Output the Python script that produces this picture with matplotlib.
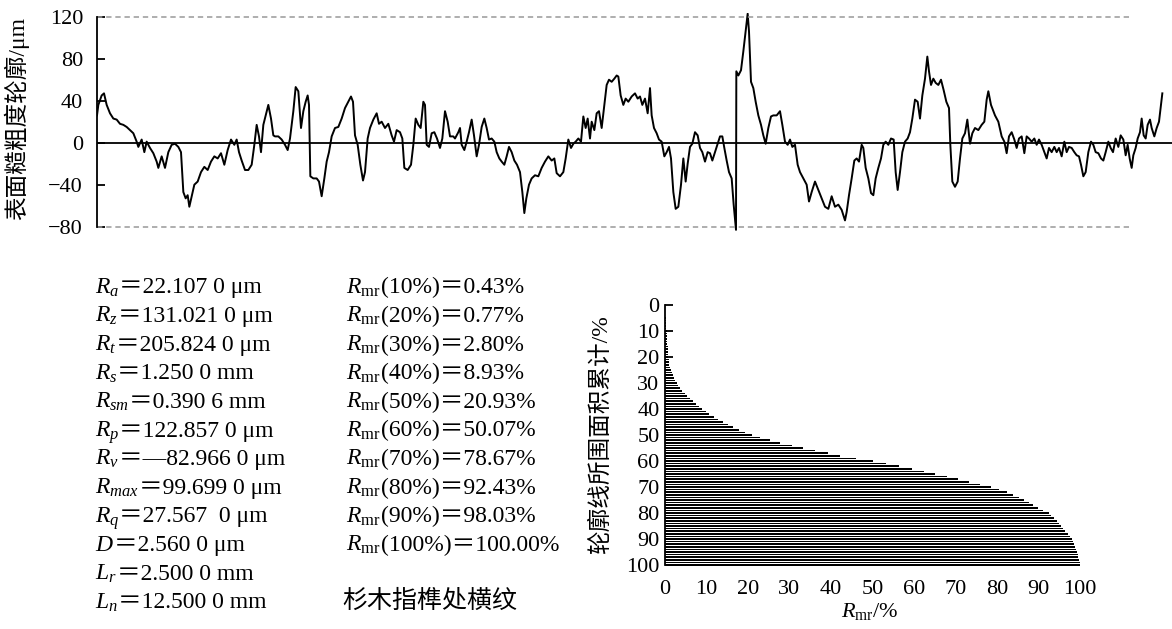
import matplotlib
matplotlib.use("Agg")
import matplotlib.pyplot as plt

plt.rcParams['font.family'] = ['Liberation Serif', 'Noto Sans CJK SC']
plt.rcParams['mathtext.fontset'] = 'custom'
plt.rcParams['mathtext.rm'] = 'Liberation Serif'
plt.rcParams['mathtext.it'] = 'Liberation Serif:italic'

# ---- roughness profile (trace position, height in um) ----
trace_pos = [
    6, 10, 20, 27, 35, 45, 55, 65, 75, 85, 95, 105, 115, 125, 130, 140, 148, 155, 165, 175,
    185, 190, 200, 210, 220, 230, 240, 250, 258, 265, 272, 278, 283, 290, 298, 308, 318, 328, 338, 348,
    358, 368, 378, 388, 398, 408, 418, 425, 432, 440, 450, 460, 470, 478, 485, 492, 498, 505, 512, 520,
    528, 535,
    540, 550, 560, 570, 578, 585, 595, 602, 610, 618, 625, 632, 638, 642, 646, 655, 665, 672, 680, 688,
    695, 702, 710, 720, 730, 740, 750, 760, 768, 774, 780, 788, 796, 804, 810, 818, 825, 835, 845, 852,
    860, 870, 880, 890, 897, 905, 915, 922, 928, 938, 948, 955, 962, 970, 977, 985, 990, 995, 1002, 1010,
    1018, 1026, 1035, 1042, 1050, 1058, 1065, 1075,
    1080, 1090, 1095, 1100, 1108, 1115, 1122, 1130, 1137, 1145, 1152, 1160, 1168, 1175, 1182, 1190, 1198, 1205, 1213, 1220,
    1228, 1235, 1242, 1250, 1258, 1266, 1275, 1282, 1288, 1294, 1302, 1310, 1320, 1330, 1340, 1350, 1360, 1370, 1378, 1385,
    1395, 1405, 1412, 1420, 1428, 1435, 1442, 1450, 1458, 1465, 1472, 1478, 1485, 1490, 1498, 1505, 1512, 1520, 1528, 1535,
    1542, 1550, 1558, 1565, 1570, 1577, 1585, 1592, 1600, 1610,
    1620, 1628, 1635, 1642, 1650, 1658, 1665, 1670, 1677, 1685, 1692, 1700, 1708, 1715, 1722, 1728, 1735, 1742, 1750, 1758,
    1765, 1772, 1778, 1785, 1792, 1800, 1808, 1815, 1822, 1830, 1838, 1845, 1852, 1860, 1868, 1875, 1882, 1888, 1895, 1902,
    1910, 1916, 1923, 1924, 1930, 1938, 1945, 1952, 1958, 1962, 1968, 1975, 1982, 1990, 1998, 2005, 2012, 2020, 2028, 2035,
    2045, 2055, 2062, 2070, 2078, 2085, 2092, 2100, 2108, 2115, 2125, 2135, 2142, 2150,
    2160, 2170, 2180, 2190, 2200, 2210, 2220, 2230, 2240, 2250, 2255, 2262, 2270, 2278, 2285, 2292, 2300, 2305, 2312, 2320,
    2328, 2335, 2342, 2350, 2358, 2365, 2372, 2380, 2388, 2396, 2402, 2408, 2415, 2422, 2430, 2438, 2445, 2452, 2460, 2468,
    2475, 2482, 2490, 2497, 2502, 2508, 2515, 2522, 2530, 2538, 2546, 2554, 2562, 2566, 2572, 2580, 2588, 2595, 2602, 2610,
    2617, 2625, 2632, 2640, 2650, 2660, 2668, 2675, 2680, 2688, 2695, 2700,
    2710, 2720, 2728, 2735, 2742, 2750, 2758, 2765, 2772, 2780, 2788, 2795, 2802, 2810, 2818, 2825, 2832, 2840, 2848, 2855,
    2862, 2870, 2878, 2885, 2892, 2900, 2908, 2915, 2922, 2930, 2938, 2945, 2952, 2958, 2965, 2972, 2980, 2988, 2995, 3002,
    3010, 3018, 3025, 3032, 3040, 3047, 3054, 3062, 3070, 3077, 3085, 3092, 3098, 3104, 3110, 3115, 3122, 3128, 3135, 3140,
    3146, 3152, 3158, 3165, 3170, 3178, 3185, 3192, 3198, 3202,
]
profile_um = [
    26, 36, 45, 47, 36, 28, 23, 22, 18, 17, 15, 12, 9, 1, -4, 3, -9, 1, -5, -10,
    -18, -24, -13, -24, -9, -2, -1, -4, -9, -47, -53, -50, -61, -51, -40, -37, -28, -23, -26, -18,
    -13, -15, -10, -21, -7, 3, -2, 3, -9, -17, -26, -26, -21, -2, 17, 6, -9, 17, 26, 36,
    23, 7,
    6, 6, 3, -2, -7, 4, 30, 53, 49, 14, 30, 39, 45, 36, -32, -34, -34, -37, -51, -34,
    -18, -9, 6, 14, 15, 23, 33, 39, 44, 39, 7, -2, -21, -36, -28, 4, 14, 22, 28, 18,
    20, 14, 18, 7, 1, 12, 10, 4, -24, -26, -21, -2, 23, 17, 14, 39, 36, -2, -4, 9,
    10, 4, -5, 4, 30, 20, 6, 6,
    4, 10, 14, -2, -7, 1, 10, 22, 7, -13, -2, 15, 23, 14, 3, 4, 1, -9, -15, -18,
    -21, -13, -4, -9, -17, -21, -28, -47, -67, -53, -40, -34, -31, -32, -24, -18, -13, -17, -15, -29,
    -32, -28, -15, 3, -5, -1, 1, 4, 1, 25, 14, 23, 4, 20, 12, 28, 30, 14, 36, 55,
    60, 58, 61, 64, 63, 45, 36, 42, 39, 44,
    47, 42, 44, 36, 42, 28, 52, 26, 14, 9, 3, 1, -13, -9, -4, -15, -47, -63, -61, -40,
    -15, -37, -20, -4, -1, 10, 7, -5, -9, -18, -9, -10, -17, -9, -1, 6, 6, -5, -17, -28,
    -34, -59, -83.0, 68, 64, 69, 87, 106, 122.9, 106, 58, 52, 39, 26, 17, 7, -1, 14, 25, 26,
    26, 30, 17, 1, -2, 3, -4, -2, -21, -28, -34, -40, -56, -47,
    -37, -45, -53, -61, -63, -51, -61, -59, -64, -74, -66, -50, -34, -17, -15, -18, -2, -5, -24, -34,
    -48, -50, -34, -24, -15, -2, 1, -2, 4, 3, -28, -45, -28, -9, 1, 4, 10, 23, 41, 39,
    23, 45, 61, 82, 68, 55, 61, 57, 55, 60, 50, 39, 33, -2, -37, -42, -37, -15, 4, 9,
    22, -1, 9, 14, 12, 17, 20, 41, 49, 36, 30, 26,
    20, 6, 1, -10, 6, 10, 3, -5, 4, 6, -10, 6, 4, 1, 4, -2, 3, -2, -9, -15,
    -5, -9, -4, -9, -5, -13, 1, -9, -4, -5, -9, -12, -13, -21, -32, -28, -9, 1, -2, -9,
    -10, -15, -17, -9, 1, -5, -9, 4, -4, 7, 3, -12, -2, -15, -24, -12, -5, 4, 10, 23,
    7, 4, 17, 22, 14, 6, 14, 20, 36, 47,
]
profile_ticks = [120, 80, 40, 0, -40, -80]
profile_ticklabels = ['120', '80', '40', '0', '\u221240', '\u221280']
limit_lines = [120, -80]

# ---- bearing ratio curve: depth level (%) vs material ratio Rmr (%) ----
depth_pct = list(range(1, 101))
rmr_pct = [
    0.02, 0.04, 0.07, 0.10, 0.14, 0.18, 0.23, 0.29, 0.36, 0.43,
    0.46, 0.49, 0.52, 0.55, 0.58, 0.61, 0.65, 0.69, 0.73, 0.77,
    0.85, 0.95, 1.08, 1.25, 1.45, 1.68, 1.92, 2.18, 2.48, 2.80,
    3.20, 3.65, 4.15, 4.70, 5.30, 5.95, 6.65, 7.40, 8.15, 8.93,
    9.80, 10.7, 11.7, 12.8, 13.9, 15.1, 16.4, 17.8, 19.3, 20.93,
    23.0, 25.3, 27.8, 30.5, 33.3, 36.2, 39.2, 42.2, 46.1, 50.07,
    53.3, 56.4, 59.4, 62.3, 65.1, 67.9, 70.6, 73.2, 76.0, 78.67,
    80.6, 82.3, 83.8, 85.2, 86.4, 87.6, 88.7, 89.8, 91.1, 92.43,
    93.1, 93.8, 94.4, 95.0, 95.5, 96.0, 96.5, 97.0, 97.5, 98.03,
    98.3, 98.6, 98.8, 99.0, 99.2, 99.4, 99.6, 99.75, 99.9, 100.00,
]
bearing_ticks = [0, 10, 20, 30, 40, 50, 60, 70, 80, 90, 100]
rmr_levels = [10, 20, 30, 40, 50, 60, 70, 80, 90, 100]

# ---- parameter list ----
param_names = [r'$R_{a}$', r'$R_{z}$', r'$R_{t}$', r'$R_{s}$', r'$R_{sm}$', r'$R_{p}$',
               r'$R_{v}$', r'$R_{max}$', r'$R_{q}$', r'$D$', r'$L_{r}$', r'$L_{n}$']
param_values = ['22.107 0 \u03bcm', '131.021 0 \u03bcm', '205.824 0 \u03bcm', '1.250 0 mm',
                '0.390 6 mm', '122.857 0 \u03bcm', '\u201482.966 0 \u03bcm', '99.699 0 \u03bcm',
                '27.567  0 \u03bcm', '2.560 0 \u03bcm', '2.500 0 mm', '12.500 0 mm']
sample_note = '杉木指榫处横纹'

W, H = 1172, 629
fig = plt.figure(figsize=(W / 100, H / 100), dpi=100)

# profile
ax1 = fig.add_axes([97 / W, 1 - 233 / H, 1 - 97 / W, 220.5 / H])
ax1.plot(trace_pos, profile_um, color='k', lw=1.4)
ax1.axhline(0, color='k', lw=1.3)
ax1.hlines(limit_lines, 6, 3105, colors='0.6', linestyles=(0, (3.5, 2.5)), lw=1.1)
ax1.set_xlim(6, 3231)
ax1.set_ylim(-86, 124)
for s in ['top', 'right', 'bottom']:
    ax1.spines[s].set_visible(False)
ax1.spines['left'].set_bounds(-80, 120)
ax1.spines['left'].set_linewidth(1.3)
ax1.set_xticks([])
ax1.set_yticks(profile_ticks)
ax1.set_yticklabels(profile_ticklabels, fontsize=16)
ax1.tick_params(axis='y', direction='in', length=6, width=1.3, pad=10)

# bearing ratio bars
ax2 = fig.add_axes([665 / W, 1 - 566.3 / H, 415 / W, 261.3 / H])
ax2.barh(depth_pct, rmr_pct, height=0.68, color='k')
ax2.set_xlim(0, 100)
ax2.set_ylim(100.5, 0)
for s in ['top', 'right', 'bottom']:
    ax2.spines[s].set_visible(False)
ax2.spines['left'].set_bounds(0, 100)
ax2.spines['left'].set_linewidth(1.3)
ax2.set_yticks(bearing_ticks)
ax2.set_yticklabels([str(t) for t in bearing_ticks], fontsize=16)
ax2.set_xticks(bearing_ticks)
ax2.set_xticklabels([str(t) for t in bearing_ticks], fontsize=16)
ax2.tick_params(axis='y', direction='in', length=6, width=1.3, pad=4)
ax2.tick_params(axis='x', length=0, pad=10)

# overlay in pixel coordinates for labels and the parameter list
tax = fig.add_axes([0, 0, 1, 1])
tax.set_xlim(0, W)
tax.set_ylim(H, 0)
tax.axis('off')

tax.text(17, 118, '表面糙粗度轮廓/\u03bcm', rotation=90, fontsize=17,
         ha='center', va='center')
tax.text(601, 435, '轮廓线所围面积累计/%', rotation=90, fontsize=17,
         ha='center', va='center')
tax.text(870, 612, r'$R_{\mathrm{mr}}$/%', fontsize=16, ha='center', va='center')

row0, row_step = 293.3, 28.64
for i, (name, val) in enumerate(zip(param_names, param_values)):
    y = row0 + i * row_step
    t = tax.text(95, y, name, fontsize=17, va='baseline')
    tax.annotate('\uff1d' + val, xy=(1, y), xycoords=(t, 'data'),
                 fontsize=17, va='baseline', ha='left')

for i, lvl in enumerate(rmr_levels):
    y = row0 + i * row_step
    t = tax.text(346, y, r'$R_{\mathrm{mr}}$', fontsize=17, va='baseline')
    tax.annotate('(%d%%)\uff1d%.2f%%' % (lvl, rmr_pct[lvl - 1]), xy=(1, y),
                 xycoords=(t, 'data'), fontsize=17, va='baseline', ha='left')

tax.text(342, row0 + 11 * row_step, sample_note, fontsize=18, va='baseline')

fig.savefig('out.png', dpi=100)
